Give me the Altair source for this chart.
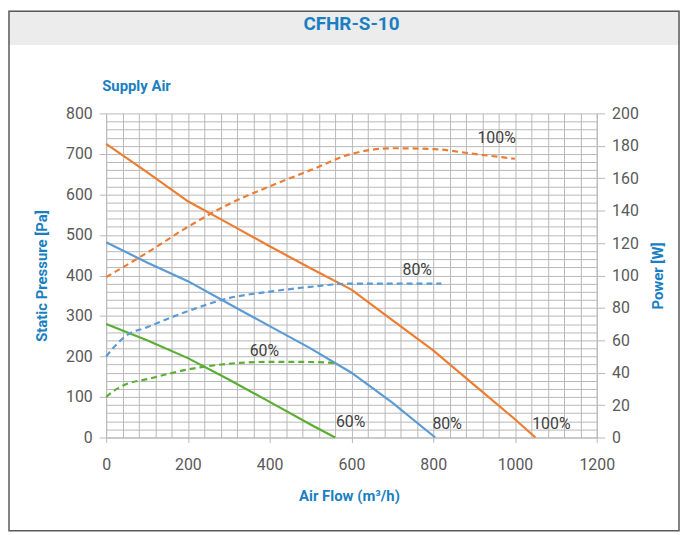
import altair as alt
import pandas as pd

# ---------------- data ----------------
speeds = ["100%", "80%", "60%"]

# static pressure curves (Pa)
flow_p100 = [0, 100, 200, 300, 400, 500, 600, 700, 800, 900, 1000, 1050]
pres_100 = [725, 655, 583, 528, 472, 418, 365, 290, 215, 130, 45, 0]
flow_p80 = [0, 100, 200, 300, 400, 500, 600, 700, 805]
pres_80 = [482, 432, 386, 330, 275, 220, 160, 86, 0]
flow_p60 = [0, 100, 200, 300, 400, 500, 560]
pres_60 = [280, 240, 196, 143, 88, 32, 0]

# power curves (W)
flow_w100 = [0, 100, 200, 300, 400, 500, 600, 700, 800, 900, 1000]
pow_100 = [99, 114, 130, 144, 155, 165, 175, 178.5, 178, 175, 172]
flow_w80 = [0, 20, 50, 100, 200, 300, 400, 500, 600, 700, 820]
pow_80 = [50, 56, 63, 68, 78, 86, 90, 93, 95, 95, 95]
flow_w60 = [0, 20, 50, 100, 200, 300, 400, 500, 560]
pow_60 = [25, 29, 33, 36, 42, 45.5, 46.7, 46.6, 46]

# curve labels
label_text = ["100%", "80%", "60%", "60%", "80%", "100%"]
label_flow = [955, 761, 387, 598, 834, 1089]
label_pres = [738, 413, 213, 37, 34, 34]

# axes
x_grid_values = list(range(0, 1201, 40))
y_grid_values = list(range(0, 801, 20))
power_values = list(range(0, 201, 20))

BLUE_T = "#1a7fc1"
GRID = "#b8b8b8"
TXT = "#595959"
FONT = "Roboto"
colors = ["#ed7d31", "#5b9bd5", "#5aae32"]

pressure = pd.DataFrame({
    "flow": flow_p100 + flow_p80 + flow_p60,
    "value": pres_100 + pres_80 + pres_60,
    "speed": [speeds[0]] * len(flow_p100) + [speeds[1]] * len(flow_p80) + [speeds[2]] * len(flow_p60),
})
power = pd.DataFrame({
    "flow": flow_w100 + flow_w80 + flow_w60,
    "value": pow_100 + pow_80 + pow_60,
    "speed": [speeds[0]] * len(flow_w100) + [speeds[1]] * len(flow_w80) + [speeds[2]] * len(flow_w60),
})
labels = pd.DataFrame({"flow": label_flow, "value": label_pres, "text": label_text})
one = pd.DataFrame({"a": [0]})

W, H = 495, 327
PAD_B = 96

x_enc = alt.X(
    "flow:Q",
    scale=alt.Scale(domain=[0, 1200], nice=False),
    axis=alt.Axis(
        values=x_grid_values, grid=True, gridColor=GRID, gridWidth=1, format="d",
        labelExpr="datum.value % 200 === 0 ? datum.label : ''",
        tickOpacity={"condition": {"test": "datum.value % 200 === 0", "value": 1}, "value": 0},
        tickSize=5, tickColor=GRID, domainColor=GRID,
        labelFont=FONT, labelFontSize=16, labelColor=TXT, labelPadding=14,
        labelFlush=False, labelOverlap=False,
        title="Air Flow (m³/h)", titleX=245, titleY=59, titleBaseline="middle", titleAlign="center",
        titleFont=FONT, titleFontSize=15, titleFontWeight="bold", titleColor=BLUE_T,
    ),
)

color_enc = alt.Color("speed:N", scale=alt.Scale(domain=speeds, range=colors), legend=None)

pres_lines = alt.Chart(pressure).mark_line(strokeWidth=2.2).encode(
    x=x_enc,
    y=alt.Y(
        "value:Q",
        scale=alt.Scale(domain=[0, 800], nice=False),
        axis=alt.Axis(
            orient="left", values=y_grid_values, grid=True, gridColor=GRID, gridWidth=1,
            labelExpr="datum.value % 100 === 0 ? datum.label : ''",
            tickOpacity={"condition": {"test": "datum.value % 100 === 0", "value": 1}, "value": 0},
            tickSize=7, tickColor=GRID, domainColor=GRID,
            labelFont=FONT, labelFontSize=16, labelColor=TXT, labelPadding=7,
            labelFlush=False, labelOverlap=False,
            title="Static Pressure [Pa]", titleX=-65, titleY=H / 2, titleAngle=270,
            titleBaseline="middle", titleAlign="center",
            titleFont=FONT, titleFontSize=15, titleFontWeight="bold", titleColor=BLUE_T,
        ),
    ),
    color=color_enc,
    detail="speed:N",
)

pow_lines = alt.Chart(power).mark_line(strokeWidth=2.2, strokeDash=[6, 4], interpolate="monotone").encode(
    x=x_enc,
    y=alt.Y(
        "value:Q",
        scale=alt.Scale(domain=[0, 200], nice=False),
        axis=alt.Axis(
            orient="right", values=power_values, grid=False,
            tickSize=8, tickColor=GRID, domainColor=GRID,
            labelFont=FONT, labelFontSize=16, labelColor=TXT, labelPadding=7,
            labelFlush=False, labelOverlap=False,
            title="Power [W]", titleX=61, titleY=H / 2, titleAngle=270,
            titleBaseline="middle", titleAlign="center",
            titleFont=FONT, titleFontSize=15, titleFontWeight="bold", titleColor=BLUE_T,
        ),
    ),
    color=color_enc,
    detail="speed:N",
)

label_marks = alt.Chart(labels).mark_text(
    font=FONT, fontSize=16, color="#404040", align="center", baseline="middle"
).encode(
    x=x_enc,
    y=alt.Y("value:Q", scale=alt.Scale(domain=[0, 800], nice=False), axis=None),
    text="text:N",
)

band = alt.Chart(one).mark_rect(color="#ececec").encode(
    x=alt.value(-99), x2=alt.value(579), y=alt.value(-104), y2=alt.value(-69)
)
frame = alt.Chart(one).mark_rect(fill="transparent", stroke="#5a5a5a", strokeWidth=1.5).encode(
    x=alt.value(-98), x2=alt.value(578), y=alt.value(-103), y2=alt.value(H + PAD_B - 2)
)
title_mark = alt.Chart(one).mark_text(
    text="CFHR-S-10", font=FONT, fontSize=19, fontWeight="bold", color=BLUE_T,
    align="center", baseline="middle"
).encode(x=alt.value(W / 2), y=alt.value(-90))
supply_mark = alt.Chart(one).mark_text(
    text="Supply Air", font=FONT, fontSize=15, fontWeight="bold", color=BLUE_T,
    align="left", baseline="middle"
).encode(x=alt.value(-4), y=alt.value(-28))

chart = alt.layer(
    band, frame, title_mark, supply_mark, pres_lines, label_marks, pow_lines
).resolve_scale(y="independent").properties(
    width=W, height=H,
    autosize=alt.AutoSizeParams(type="none"),
    padding={"left": 99, "top": 104, "right": 84, "bottom": PAD_B},
    background="white",
).configure_view(stroke="transparent")

chart.save("out.html", embed_options={"renderer": "svg", "actions": False})
